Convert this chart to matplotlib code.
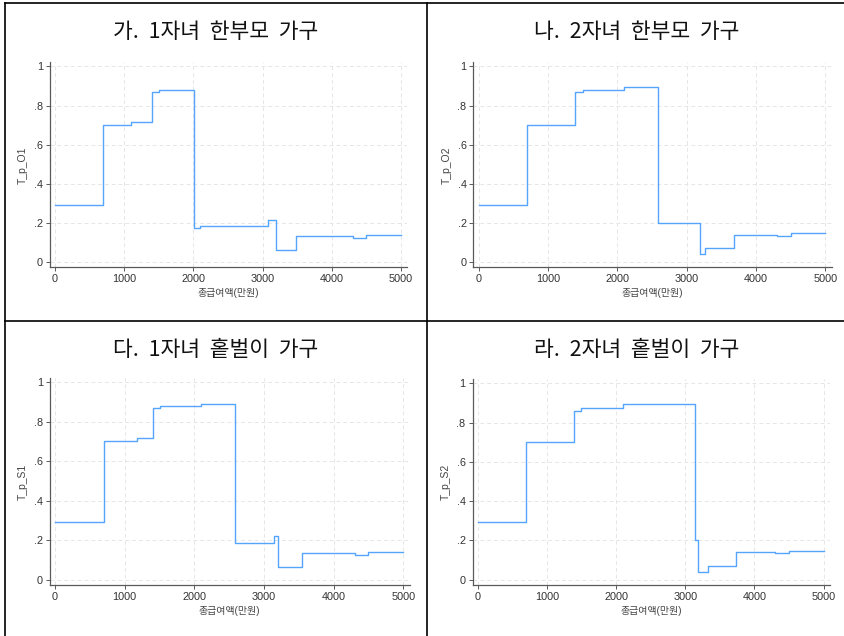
import matplotlib
matplotlib.use('Agg')
import matplotlib.pyplot as plt

plt.rcParams['font.family'] = ['Liberation Sans', 'Noto Sans CJK KR', 'DejaVu Sans']

# 구간 시작점(만원)과 해당 구간의 값
x_o1 = [0, 700, 1100, 1400, 1500, 2010, 2100, 3080, 3200, 3490, 4300, 4500, 5000]
y_o1 = [0.292, 0.700, 0.715, 0.871, 0.878, 0.175, 0.187, 0.218, 0.063, 0.133, 0.124, 0.139, 0.139]

x_o2 = [0, 700, 1390, 1500, 2100, 2590, 3200, 3270, 3680, 4300, 4500, 5000]
y_o2 = [0.292, 0.700, 0.871, 0.877, 0.897, 0.199, 0.041, 0.073, 0.141, 0.134, 0.148, 0.148]

x_s1 = [0, 700, 1180, 1400, 1500, 2100, 2590, 3140, 3200, 3550, 4300, 4500, 5000]
y_s1 = [0.293, 0.702, 0.716, 0.872, 0.878, 0.888, 0.187, 0.220, 0.063, 0.133, 0.127, 0.139, 0.139]

x_s2 = [0, 700, 1390, 1500, 2100, 3140, 3190, 3330, 3730, 4300, 4500, 5000]
y_s2 = [0.293, 0.700, 0.857, 0.876, 0.896, 0.200, 0.041, 0.071, 0.142, 0.134, 0.148, 0.148]

titles = ['가.  1자녀  한부모  가구', '나.  2자녀  한부모  가구',
          '다.  1자녀  홑벌이  가구', '라.  2자녀  홑벌이  가구']
ylabels = ['T_p_O1', 'T_p_O2', 'T_p_S1', 'T_p_S2']
xs = [x_o1, x_o2, x_s1, x_s2]
ys = [y_o1, y_o2, y_s1, y_s2]

xticks = [0, 1000, 2000, 3000, 4000, 5000]
yticks = [0, 0.2, 0.4, 0.6, 0.8, 1.0]
ytick_labels = ['0', '.2', '.4', '.6', '.8', '1']

W, H = 844, 636
fig = plt.figure(figsize=(W / 100, H / 100), dpi=100)

# 축 위치 (픽셀: 왼쪽, 오른쪽, 위, 아래)
rects = [(49.8, 407.2, 62.4, 267.2),
         (473.5, 831.5, 62.4, 267.2),
         (49.8, 409.6, 378.3, 584.6),
         (472.5, 829.9, 379.4, 584.6)]
cell_centers = [(216, 32), (637, 32), (216, 350), (637, 350)]

line_color = '#55a5ff'
axis_color = '#5a5a5a'

for i in range(4):
    l, r, t, b = rects[i]
    ax = fig.add_axes([l / W, 1 - b / H, (r - l) / W, (b - t) / H])
    ax.step(xs[i], ys[i], where='post', color=line_color, lw=1.0)
    ax.set_xlim(-75, 5090)
    ax.set_ylim(-0.025, 1.02)
    ax.set_xticks(xticks)
    ax.set_yticks(yticks)
    ax.set_yticklabels(ytick_labels)
    ax.grid(True, color='#e6e6e6', ls=(0, (4, 3)), lw=0.7)
    ax.set_axisbelow(True)
    for s in ['top', 'right']:
        ax.spines[s].set_visible(False)
    for s in ['left', 'bottom']:
        ax.spines[s].set_color(axis_color)
        ax.spines[s].set_linewidth(0.9)
    ax.tick_params(colors=axis_color, labelcolor='#333333', labelsize=7.8,
                   length=3, width=0.7, pad=2)
    ax.set_xlabel('총급여액(만원)', fontsize=7.2, color='#444444', labelpad=3)
    ax.set_ylabel(ylabels[i], fontsize=7.5, color='#444444', labelpad=4)
    cx, cy = cell_centers[i]
    fig.text(cx / W, 1 - cy / H, titles[i], ha='center', va='center',
             fontsize=15.5, color='#111111', family=['Noto Sans CJK KR'])

# 표 테두리
border = dict(color='black', lw=1.2, transform=fig.transFigure)
fig.add_artist(plt.Line2D([5 / W, 1], [1 - 3 / H, 1 - 3 / H], **border))
fig.add_artist(plt.Line2D([5 / W, 5 / W], [0, 1 - 3 / H], **border))
fig.add_artist(plt.Line2D([427 / W, 427 / W], [0, 1 - 3 / H], **border))
fig.add_artist(plt.Line2D([5 / W, 1], [1 - 321 / H, 1 - 321 / H], **border))

fig.savefig('out.png', dpi=100)
